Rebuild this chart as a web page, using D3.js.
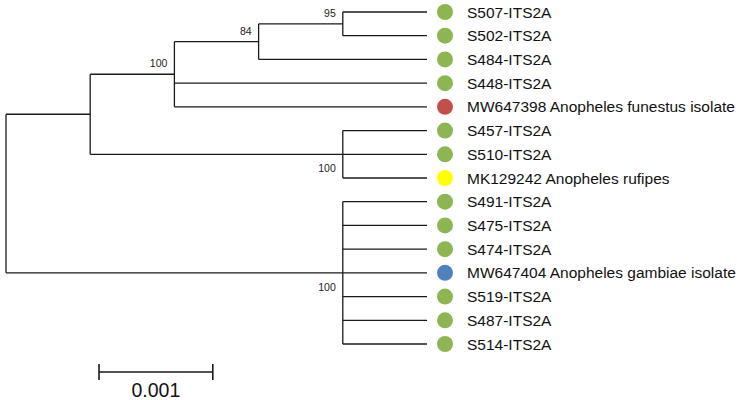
<!DOCTYPE html>
<html>
<head>
<meta charset="utf-8">
<script src="https://cdn.jsdelivr.net/npm/d3@7"></script>
<style>
  body { margin: 0; background: #fff; }
  svg { font-family: Arial, "Liberation Sans", sans-serif; }
</style>
</head>
<body>
<svg id="tree" width="740" height="400"></svg>
<script>
// tips, top to bottom
const taxa = ['S507-ITS2A', 'S502-ITS2A', 'S484-ITS2A', 'S448-ITS2A',
    'MW647398 Anopheles funestus isolate', 'S457-ITS2A', 'S510-ITS2A',
    'MK129242 Anopheles rufipes', 'S491-ITS2A', 'S475-ITS2A', 'S474-ITS2A',
    'MW647404 Anopheles gambiae isolate', 'S519-ITS2A', 'S487-ITS2A', 'S514-ITS2A'];
const taxonGroup = ['sample', 'sample', 'sample', 'sample', 'funestus', 'sample', 'sample',
    'rufipes', 'sample', 'sample', 'sample', 'gambiae', 'sample', 'sample', 'sample'];
const groups = ['sample', 'funestus', 'rufipes', 'gambiae'];
const groupColors = ['#8db553', '#c0504d', '#ffff00', '#4f81bd'];

// tree: node id, parent id, distance from root (substitutions per site)
const nodeIds = ['root', 'n1', 'n2', 'n3', 'n4', 'n5', 'n6'].concat(taxa);
const nodeParents = ['', 'root', 'n1', 'n2', 'n3', 'n1', 'root',
    'n4', 'n4', 'n3', 'n2', 'n2', 'n5', 'n5', 'n5', 'n6', 'n6', 'n6', 'n6', 'n6', 'n6', 'n6'];
const nodeDist = [0, 0.00074, 0.00148, 0.00222, 0.00296, 0.00296, 0.00296,
    0.0037, 0.0037, 0.0037, 0.0037, 0.0037, 0.0037, 0.0037, 0.0037,
    0.0037, 0.0037, 0.0037, 0.0037, 0.0037, 0.0037, 0.0037];

const bootNodes = ['n2', 'n3', 'n4', 'n5', 'n6'];
const bootValues = [100, 84, 95, 100, 100];

const scaleBarValue = 0.001;
const scaleBarLabel = '0.001';

let svg = d3.select('#tree');

let rows = nodeIds.map((id, i) => ({id: id, parent: nodeParents[i], dist: nodeDist[i]}));
let root = d3.stratify().id(d => d.id).parentId(d => d.parent || null)(rows);

let xScale = d3.scaleLinear().domain([0, 0.0037]).range([6, 427]);
let yScale = d3.scalePoint().domain(taxa).range([12, 344]);
let colorScale = d3.scaleOrdinal().domain(groups).range(groupColors);

// positions: tips from the list, internal nodes centred on their outer children
root.eachAfter(n => {
    n.px = xScale(n.data.dist);
    if (!n.children) {
        n.py = yScale(n.id);
    } else {
        let ys = n.children.map(c => c.py);
        n.py = (d3.min(ys) + d3.max(ys)) / 2;
    }
});

let g = svg.append('g').attr('fill', 'none').attr('stroke', '#1a1a1a').attr('stroke-width', 1.3);

// horizontal branches
g.selectAll('.hbranch').data(root.descendants().filter(n => n.parent)).enter().append('path')
    .attr('class', 'hbranch')
    .attr('d', n => 'M' + n.parent.px + ',' + n.py + 'H' + n.px);

// vertical connectors
g.selectAll('.vbranch').data(root.descendants().filter(n => n.children)).enter().append('path')
    .attr('class', 'vbranch')
    .attr('d', n => {
        let ys = n.children.map(c => c.py);
        return 'M' + n.px + ',' + d3.min(ys) + 'V' + d3.max(ys);
    });

// bootstrap values: above the branch for a first child, below otherwise
let bootData = bootNodes.map((id, i) => ({node: root.find(n => n.id === id), value: bootValues[i]}));
svg.selectAll('.boot').data(bootData).enter().append('text')
    .attr('class', 'boot')
    .attr('x', d => d.node.px - 7)
    .attr('y', d => d.node.parent.children[0] === d.node ? d.node.py - 7 : d.node.py + 18)
    .attr('text-anchor', 'end')
    .style('font-size', '10.5px')
    .style('fill', '#222')
    .text(d => d.value);

// tip markers and names
let tips = root.leaves();
svg.selectAll('.marker').data(tips).enter().append('circle')
    .attr('class', 'marker')
    .attr('cx', n => n.px + 18)
    .attr('cy', n => n.py)
    .attr('r', 8)
    .style('fill', n => colorScale(taxonGroup[taxa.indexOf(n.id)]));

svg.selectAll('.tip').data(tips).enter().append('text')
    .attr('class', 'tip')
    .attr('x', n => n.px + 40)
    .attr('y', n => n.py + 5.5)
    .style('font-size', '15.5px')
    .style('fill', '#111')
    .text(n => n.id);

// scale bar
let barX = 99, barY = 372;
let barLen = xScale(scaleBarValue) - xScale(0);
let bar = svg.append('g').attr('stroke', '#1a1a1a').attr('stroke-width', 1.6);
bar.append('line').attr('x1', barX).attr('x2', barX + barLen).attr('y1', barY).attr('y2', barY);
bar.append('line').attr('x1', barX).attr('x2', barX).attr('y1', barY - 8).attr('y2', barY + 8);
bar.append('line').attr('x1', barX + barLen).attr('x2', barX + barLen).attr('y1', barY - 8).attr('y2', barY + 8);
svg.append('text')
    .attr('x', barX + barLen / 2)
    .attr('y', 397)
    .attr('text-anchor', 'middle')
    .style('font-size', '19.5px')
    .style('fill', '#111')
    .text(scaleBarLabel);
</script>
</body>
</html>
